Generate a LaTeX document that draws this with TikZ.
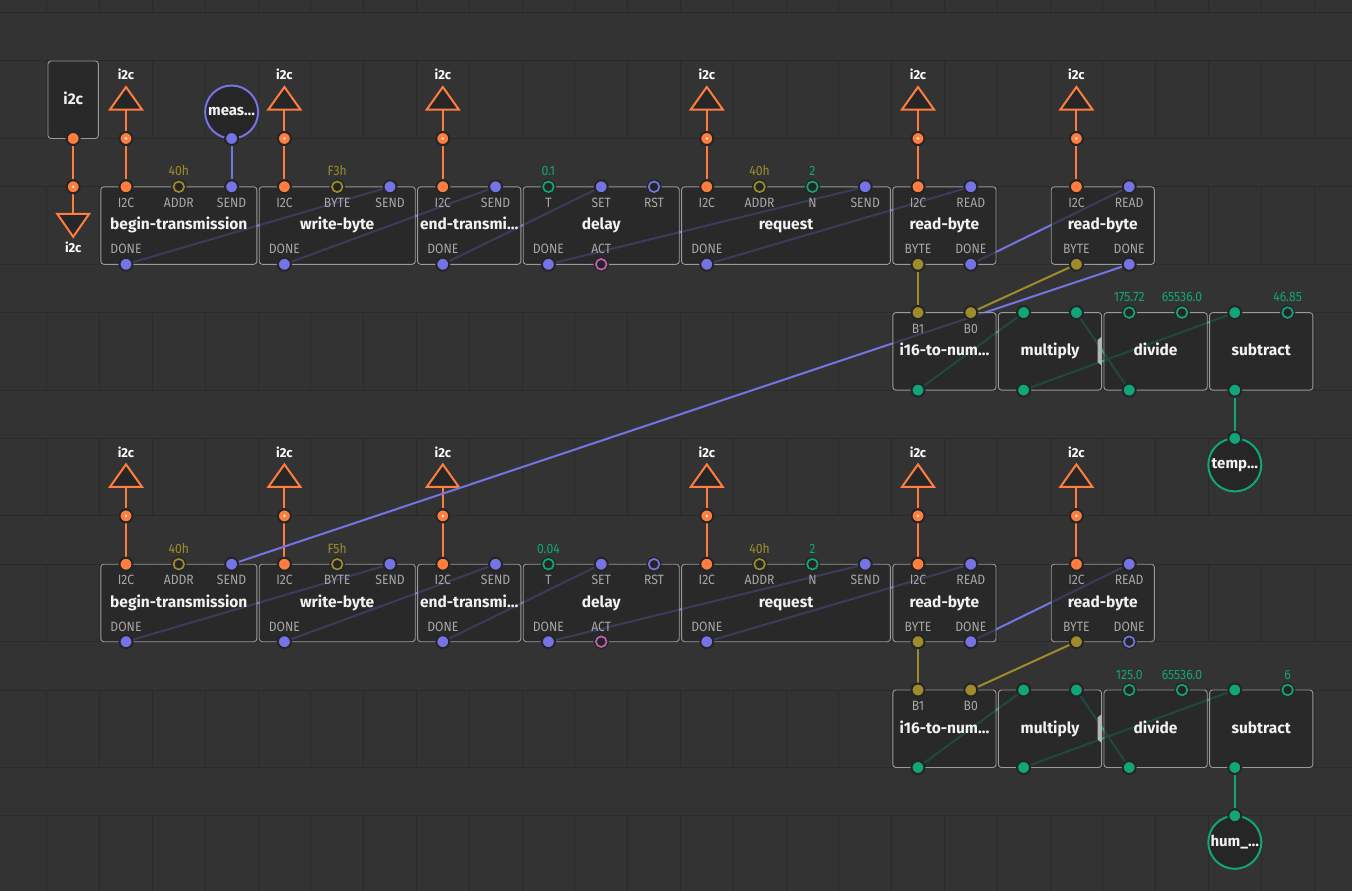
\documentclass[tikz,border=0pt]{standalone}
\usepackage{fontspec}
\setmainfont{Fira Sans}
\newfontfamily\pinfont{Fira Sans}[FakeStretch=0.9]
\definecolor{bgcol}{HTML}{333333}
\definecolor{gridcol}{HTML}{2B2B2B}
\definecolor{boxfill}{HTML}{262626}
\definecolor{boxline}{HTML}{9A9A9A}
\definecolor{pinring}{HTML}{252525}
\definecolor{lblgray}{HTML}{A8A8A8}
\definecolor{titlewhite}{HTML}{F2F2F2}
\definecolor{corange}{HTML}{FF7E3F}
\definecolor{cpulse}{HTML}{7474E6}
\definecolor{cbyte}{HTML}{9E8C2C}
\definecolor{cnum}{HTML}{10A67A}
\definecolor{cbool}{HTML}{C25FB5}
\definecolor{handlegray}{HTML}{B4B4B4}
\pgfdeclarelayer{grid}
\pgfdeclarelayer{terms}
\pgfdeclarelayer{links}
\pgfdeclarelayer{boxes}
\pgfsetlayers{grid,terms,links,boxes,main}
\tikzset{
  gridline/.style={draw=gridcol, line width=1pt},
  xbox/.style={draw=boxline, line width=0.9pt, fill=boxfill, fill opacity=0.72,
    rounded corners=3pt, inner sep=0pt, minimum height=77.5pt},
  xtitle/.style={anchor=base, text=titlewhite, font=\fontsize{15.5}{18}\selectfont\bfseries},
  pinlbl/.style={anchor=base, text=lblgray, font=\pinfont\fontsize{13.5}{15}\selectfont},
  pinval/.style={anchor=base, text=#1, font=\pinfont\fontsize{13.5}{15}\selectfont},
  pinon/.style={circle, inner sep=0pt, minimum size=13pt, fill=#1, draw=pinring, line width=2pt},
  pinoff/.style={circle, inner sep=0pt, minimum size=10.6pt, fill=pinring, draw=pinring,
    line width=1.4pt, double=#1, double distance=1.7pt},
  i2cpin/.style={pinon=corange},
  pulsepin/.style={pinon=cpulse},
  pulseoff/.style={pinoff=cpulse},
  bytepin/.style={pinon=cbyte},
  byteoff/.style={pinoff=cbyte},
  numpin/.style={pinon=cnum},
  numoff/.style={pinoff=cnum},
  booloff/.style={pinoff=cbool},
  termpin/.style={pinon=corange,
    path picture={\fill[white] (path picture bounding box.center) circle (1.3pt);}},
  termtri/.style={draw=corange, line width=2pt, fill=boxfill},
  termlbl/.style={anchor=base, text=white, font=\fontsize{13}{15}\selectfont\bfseries},
  flagnode/.style={circle, draw=#1, line width=2pt, fill=boxfill, minimum size=53pt,
    inner sep=0pt, text=titlewhite, font=\fontsize{15}{18}\selectfont\bfseries},
  wire/.style={line width=2pt, draw=#1},
}
\begin{document}
\begin{tikzpicture}[x=52.8pt, y=-1pt]
  \useasboundingbox (-0.3864,0) rectangle (25.2197,891);

  % canvas and slot grid
  \begin{pgfonlayer}{grid}
    \fill[bgcol] (-0.3864,0) rectangle (25.2197,891);
    \foreach \gr in {-1,...,6}{
      \pgfmathsetmacro\gt{61+125.8*\gr}
      \draw[gridline] (-0.4,\gt) -- (25.3,\gt) (-0.4,\gt+77.5) -- (25.3,\gt+77.5);
      \foreach \gx in {0,...,24}
        \draw[gridline] (\gx+0.5,\gt) -- (\gx+0.5,\gt+77.5);
    }
  \end{pgfonlayer}

  % i2c source with its output terminal
  \begin{pgfonlayer}{boxes}
    \node[xbox, minimum width=50.4pt] (src) at (1,99.75) {};
  \end{pgfonlayer}
  \node[xtitle] (srct) at (1,104.3) {i2c};
  \node[i2cpin] (srcp) at (1,138.5) {};
  \node[termpin] (srcout) at (1,186.8) {};
  \coordinate (srcoutb) at (1,213.8);
  \begin{pgfonlayer}{terms}
    \draw[termtri] (1-0.303,213.8) -- (1,236.8) -- (1+0.303,213.8) -- cycle;
  \end{pgfonlayer}
  \node[termlbl] (srcoutl) at (1,252.3) {i2c};

  % measure pulse
  \begin{pgfonlayer}{terms}
    \node[flagnode=cpulse] (meas) at (4,112) {meas…};
  \end{pgfonlayer}
  \node[pulsepin] (measp) at (4,138.5) {};

  % two read cycles
  \foreach \blk/\off/\bval/\tval/\kval/\sval/\cname/\rd in
    {1/0/F3h/0.1/175.72/46.85/temp…/pulsepin, 2/377.4/F5h/0.04/125.0/6/hum\_…/pulseoff}{
    \pgfmathsetmacro\rowU{61+\off}
    \pgfmathsetmacro\rowT{186.8+\off}
    \pgfmathsetmacro\rowM{312.6+\off}
    \pgfmathsetmacro\rowC{438.4+\off}

    % bus terminals
    \foreach \ts in {2,5,8,13,17,20}{
      \begin{pgfonlayer}{terms}
        \draw[termtri] (\ts-0.303,\rowU+48.5) -- (\ts,\rowU+26) -- (\ts+0.303,\rowU+48.5) -- cycle;
      \end{pgfonlayer}
      \coordinate (tb\ts-\blk) at (\ts,\rowU+48.5);
      \node[termlbl] (tl\ts-\blk) at (\ts,\rowU+19) {i2c};
      \node[termpin] (tp\ts-\blk) at (\ts,\rowU+77.5) {};
    }

    % node bodies
    \foreach \nm/\fa/\fb/\ry/\ttl in {bt/2/4/\rowT/begin-transmission, wb/5/7/\rowT/write-byte,
        et/8/9/\rowT/end-transmi…, dl/10/12/\rowT/delay, rq/13/16/\rowT/request,
        rb/17/18/\rowT/read-byte, rc/20/21/\rowT/read-byte, i16/17/18/\rowM/i16-to-num…,
        mul/19/20/\rowM/multiply, div/21/22/\rowM/divide, sub/23/24/\rowM/subtract}{
      \begin{pgfonlayer}{boxes}
        \node[xbox, minimum width={(\fb-\fa+1)*52.8pt-2.4pt}] (\nm-\blk) at ({(\fa+\fb)/2},\ry+38.75) {};
      \end{pgfonlayer}
      \node[xtitle] (\nm-\blk-t) at ({(\fa+\fb)/2},\ry+43) {\ttl};
    }
    \fill[handlegray] (20.40,\rowM+27.5) -- (20.48,\rowM+24) -- (20.48,\rowM+53) -- (20.40,\rowM+49.5) -- cycle;

    % inputs
    \foreach \pn/\ps/\pst/\plb in {bti/2/i2cpin/I2C, bta/3/byteoff/ADDR, bts/4/pulsepin/SEND,
        wbi/5/i2cpin/I2C, wbb/6/byteoff/BYTE, wbs/7/pulsepin/SEND, eti/8/i2cpin/I2C,
        ets/9/pulsepin/SEND, dlt/10/numoff/T, dls/11/pulsepin/SET, dlr/12/pulseoff/RST,
        rqi/13/i2cpin/I2C, rqa/14/byteoff/ADDR, rqn/15/numoff/N, rqs/16/pulsepin/SEND,
        rbi/17/i2cpin/I2C, rbr/18/pulsepin/READ, rci/20/i2cpin/I2C, rcr/21/pulsepin/READ}{
      \node[\pst] (\pn-\blk) at (\ps,\rowT) {};
      \node[pinlbl] (\pn-\blk-l) at (\ps,\rowT+20.5) {\plb};
    }
    % outputs
    \foreach \pn/\ps/\pst/\plb in {btd/2/pulsepin/DONE, wbd/5/pulsepin/DONE, etd/8/pulsepin/DONE,
        dld/10/pulsepin/DONE, dla/11/booloff/ACT, rqd/13/pulsepin/DONE, rbb/17/bytepin/BYTE,
        rbd/18/pulsepin/DONE, rcb/20/bytepin/BYTE, rcd/21/\rd/DONE}{
      \node[\pst] (\pn-\blk) at (\ps,\rowT+77.5) {};
      \node[pinlbl] (\pn-\blk-l) at (\ps,\rowT+67) {\plb};
    }
    \foreach \ps/\vl/\vc in {3/40h/cbyte, 6/\bval/cbyte, 10/\tval/cnum, 14/40h/cbyte, 15/2/cnum}
      \node[pinval=\vc] (v\ps-\blk) at (\ps,\rowT-11) {\vl};

    % arithmetic
    \foreach \pn/\ps/\pst in {i16a/17/bytepin, i16b/18/bytepin, mula/19/numpin, mulb/20/numpin,
        diva/21/numoff, divb/22/numoff, suba/23/numpin, subb/24/numoff}
      \node[\pst] (\pn-\blk) at (\ps,\rowM) {};
    \node[pinlbl] (i16a-\blk-l) at (17,\rowM+20.5) {B1};
    \node[pinlbl] (i16b-\blk-l) at (18,\rowM+20.5) {B0};
    \foreach \pn/\ps in {i16o/17, mulo/19, divo/21, subo/23}
      \node[numpin] (\pn-\blk) at (\ps,\rowM+77.5) {};
    \foreach \ps/\vl in {21/\kval, 22/65536.0, 24/\sval}
      \node[pinval=cnum] (v\ps-\blk) at (\ps,\rowM-11) {\vl};

    % result
    \begin{pgfonlayer}{terms}
      \node[flagnode=cnum] (out-\blk) at (23,\rowC+26.5) {\cname};
    \end{pgfonlayer}
    \node[numpin] (outp-\blk) at (23,\rowC) {};

    % links
    \begin{pgfonlayer}{links}
      \foreach \ts/\tq in {2/bti, 5/wbi, 8/eti, 13/rqi, 17/rbi, 20/rci}
        \draw[wire=corange] (tb\ts-\blk) -- (tp\ts-\blk) -- (\tq-\blk);
      \foreach \lka/\lkb in {btd/wbs, wbd/ets, etd/dls, dld/rqs, rqd/rbr, rbd/rcr}
        \draw[wire=cpulse] (\lka-\blk) -- (\lkb-\blk);
      \draw[wire=cbyte] (rbb-\blk) -- (i16a-\blk);
      \draw[wire=cbyte] (rcb-\blk) -- (i16b-\blk);
      \foreach \lka/\lkb in {i16o/mula, divo/mulb, mulo/suba, subo/outp}
        \draw[wire=cnum] (\lka-\blk) -- (\lkb-\blk);
    \end{pgfonlayer}
  }

  \begin{pgfonlayer}{links}
    \draw[wire=corange] (srcp) -- (srcout) -- (srcoutb);
    \draw[wire=cpulse] (measp) -- (bts-1);
    \draw[wire=cpulse] (rcd-1) -- (bts-2);
  \end{pgfonlayer}
\end{tikzpicture}
\end{document}
